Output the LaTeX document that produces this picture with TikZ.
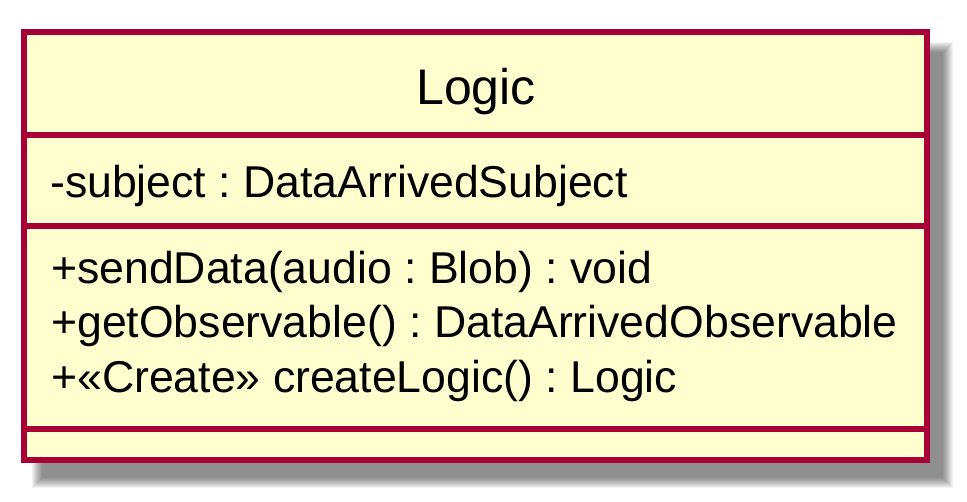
\documentclass[tikz,border=0pt]{standalone}
\usepackage{fontspec}
\setmainfont{Liberation Sans}
\definecolor{umlfill}{HTML}{FEFECE}
\definecolor{umlline}{HTML}{A80036}
\begin{document}
\frenchspacing
\begin{tikzpicture}[x=1pt,y=-1pt,
        member/.style={anchor=base west,inner sep=0pt,font=\fontsize{44.6}{53}\selectfont},
        heading/.style={anchor=base,inner sep=0pt,font=\fontsize{50}{60}\selectfont}]
    \useasboundingbox (0,0) rectangle (967,501);

    % shadow
    \foreach \d in {0,1,...,10} {
            \fill[black,opacity=0.05] (32+\d,42+\d) rectangle (953-\d,488-\d);
        }

    % box
    \coordinate (NW) at (24,32);
    \coordinate (SE) at (926.5,460);
    \draw[umlline,fill=umlfill,line width=6pt] (NW) rectangle (SE);
    \begin{scope}[umlline,line width=6pt]
        \draw (24,135) -- (926.5,135);
        \draw (24,225.5) -- (926.5,225.5);
        \draw (24,429) -- (926.5,429);
    \end{scope}

    % texts
    \node[heading] (title) at (476,104) {Logic};
    \node[member] (attr) at (50,197) {-subject : DataArrivedSubject};
    \begin{scope}[member]
        \node[member] (m1) at (51,283) {+sendData(audio : Blob) : void};
        \node[member] (m2) at (51,337.5) {+getObservable() : DataArrivedObservable};
        \node[member] (m3) at (51,392) {+«Create» createLogic() : Logic};
    \end{scope}
\end{tikzpicture}
\end{document}
